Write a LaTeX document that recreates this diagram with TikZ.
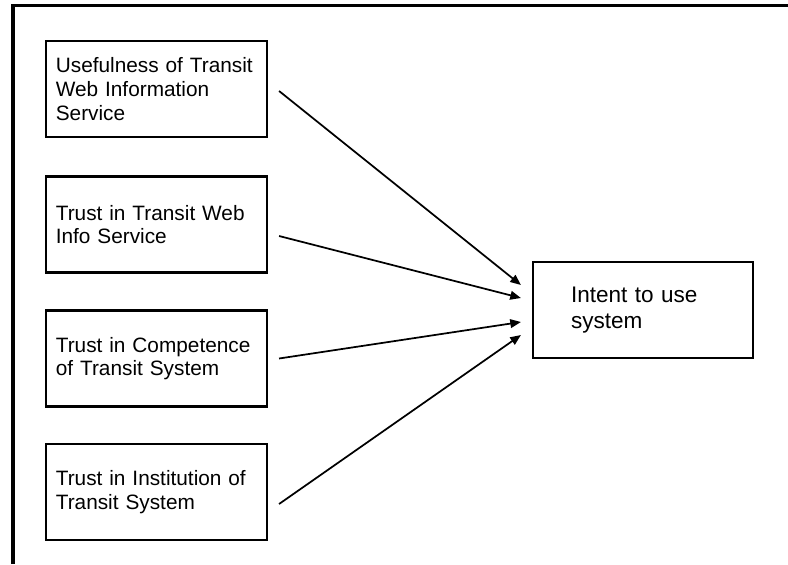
\documentclass[tikz,border=0pt]{standalone}
\usepackage{fontspec}
\setmainfont{Liberation Sans}
\usetikzlibrary{arrows.meta,calc}

\tikzset{
  factorbox/.style={draw=black, line width=1.6pt, fill=white, align=left,
    minimum width=165.75pt, minimum height=72pt, text width=151pt, inner xsep=7.375pt,
    font=\fontsize{15.6}{17.8}\selectfont},
  outcomebox/.style={draw=black, line width=1.6pt, fill=white, align=left,
    minimum width=165pt, minimum height=72pt, text width=108pt, inner xsep=28.5pt,
    font=\fontsize{16.9}{19.5}\selectfont},
  influence/.style={line width=1.3pt, -{Triangle[length=8pt,width=6.5pt]}},
  frameline/.style={line width=2.6pt, line join=miter}
}

\begin{document}
\begin{tikzpicture}[x=0.75pt,y=0.75pt,yscale=-1,xscale=1]
\useasboundingbox (0,0) rectangle (788,564);

%Shape: Frame (top and left)
\draw [frameline] (13,564) -- (13,5.5) -- (788,5.5) ;

%Shape: Rectangle [id:useful]
\node [factorbox] (useful) at (156.5,89) {Usefulness of Transit\\Web Information\\Service};
%Shape: Rectangle [id:trustweb]
\node [factorbox] (trustweb) at (156.5,224.5) {Trust in Transit Web\\Info Service};
%Shape: Rectangle [id:competence]
\node [factorbox] (competence) at (156.5,358.5) {Trust in Competence\\of Transit System};
%Shape: Rectangle [id:institution]
\node [factorbox] (institution) at (156.5,492) {Trust in Institution of\\Transit System};

%Shape: Rectangle [id:intent]
\node [outcomebox] (intent) at (643,310) {Intent to use\\system};

%Straight Lines [id:arrows]
\draw [influence] ($(useful.east)+(11,2)$) -- ($(intent.west)+(-11,-25)$) ;
\draw [influence] ($(trustweb.east)+(11,11.5)$) -- ($(intent.west)+(-11,-12)$) ;
\draw [influence] ($(competence.east)+(11,0)$) -- ($(intent.west)+(-11,12)$) ;
\draw [influence] ($(institution.east)+(11,12)$) -- ($(intent.west)+(-11,25)$) ;
\end{tikzpicture}
\end{document}
